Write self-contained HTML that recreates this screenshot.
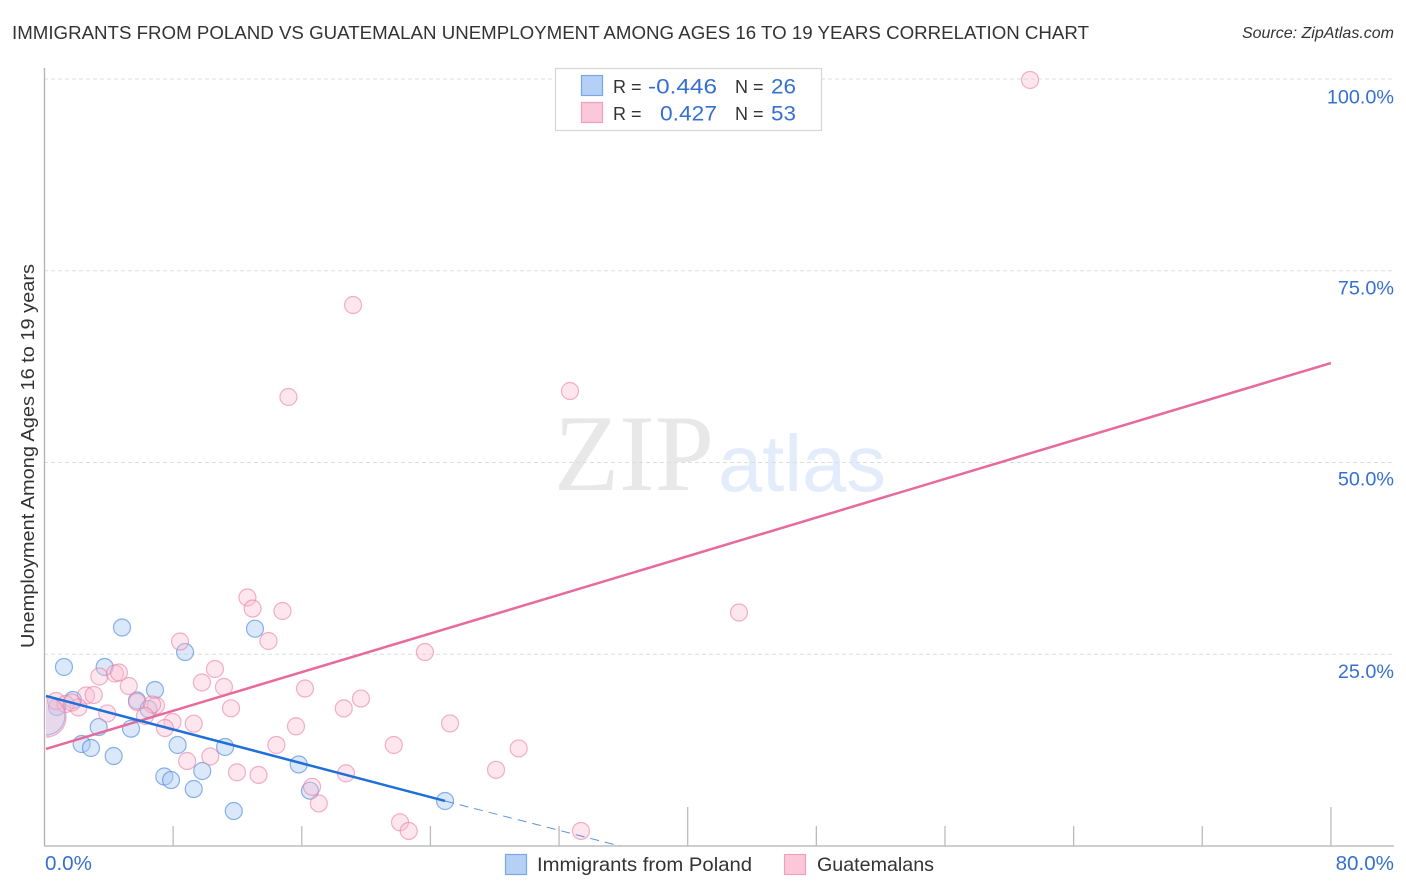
<!DOCTYPE html>
<html lang="en">
<head>
<meta charset="utf-8">
<title>Immigrants from Poland vs Guatemalan Unemployment Correlation Chart</title>
<style>
  html, body { margin: 0; padding: 0; background: #fff; width: 1406px; height: 892px; overflow: hidden; }
  svg { display: block; font-family: "Liberation Sans", sans-serif; }
</style>
</head>
<body>
<svg id="chart" xmlns="http://www.w3.org/2000/svg" width="1406" height="892" viewBox="0 0 1406 892">
  <defs>
    <clipPath id="plot-clip"><rect x="46" y="60" width="1348" height="786"></rect></clipPath>
  </defs>
  <rect x="0" y="0" width="1406" height="892" fill="#ffffff"></rect>
  <text x="12" y="39" font-size="18.6" fill="#333333" textLength="1077" lengthAdjust="spacingAndGlyphs">IMMIGRANTS FROM POLAND VS GUATEMALAN UNEMPLOYMENT AMONG AGES 16 TO 19 YEARS CORRELATION CHART</text>
  <text x="1394" y="38" font-size="16" font-style="italic" fill="#333333" text-anchor="end">Source: ZipAtlas.com</text>
  <text transform="translate(34,456) rotate(-90)" font-size="18" fill="#333333" text-anchor="middle" textLength="384" lengthAdjust="spacingAndGlyphs">Unemployment Among Ages 16 to 19 years</text>

  <g>
    <text x="554" y="490" font-family="'Liberation Serif', serif" font-size="109" fill="#e8e8e8" textLength="160" lengthAdjust="spacingAndGlyphs">ZIP</text>
    <text x="718" y="491" font-size="80" fill="#e3ecfa" textLength="168" lengthAdjust="spacingAndGlyphs">atlas</text>
  </g>

  <g id="grid-layer"></g>
  <g id="axis-layer"></g>
  <g id="points-layer" clip-path="url(#plot-clip)"></g>
  <g id="trend-layer"></g>
  <g id="label-layer"></g>

  <g>
    <rect x="555.5" y="68.5" width="266" height="62" fill="#ffffff" stroke="#d6d6d6" stroke-width="1.2"></rect>
    <rect x="581.5" y="75.5" width="21" height="20" fill="#b5d0f5" stroke="#7aa7e3" stroke-width="1.2"></rect>
    <rect x="581.5" y="102.5" width="21" height="20" fill="#fcc8d9" stroke="#f0a0bc" stroke-width="1.2"></rect>
    <text x="613" y="93" font-size="18" fill="#333333">R =</text>
    <text x="717" y="93.5" font-size="21" fill="#3670cf" text-anchor="end" textLength="69" lengthAdjust="spacingAndGlyphs">-0.446</text>
    <text x="735" y="93" font-size="18" fill="#333333">N =</text>
    <text x="796" y="93.5" font-size="21" fill="#3670cf" text-anchor="end" textLength="25" lengthAdjust="spacingAndGlyphs">26</text>
    <text x="613" y="120" font-size="18" fill="#333333">R =</text>
    <text x="717" y="120.5" font-size="21" fill="#3670cf" text-anchor="end" textLength="57" lengthAdjust="spacingAndGlyphs">0.427</text>
    <text x="735" y="120" font-size="18" fill="#333333">N =</text>
    <text x="796" y="120.5" font-size="21" fill="#3670cf" text-anchor="end" textLength="25" lengthAdjust="spacingAndGlyphs">53</text>
  </g>

  <g>
    <rect x="505.5" y="854.5" width="21" height="20" fill="#b5d0f5" stroke="#7aa7e3" stroke-width="1.2"></rect>
    <text x="537" y="871" font-size="19.5" fill="#333333" textLength="215" lengthAdjust="spacingAndGlyphs">Immigrants from Poland</text>
    <rect x="784.5" y="854.5" width="21" height="20" fill="#fcc8d9" stroke="#f0a0bc" stroke-width="1.2"></rect>
    <text x="817" y="871" font-size="19.5" fill="#333333" textLength="117" lengthAdjust="spacingAndGlyphs">Guatemalans</text>
  </g>
</svg>
<script>
// Chart data (x = % immigrants, y = % unemployment, size = relative sample weight)
const polandX = [1.21,4.82,3.74,0.78,1.77,6.87,5.75,6.47,3.37,5.38,2.31,2.89,4.30,8.28,7.45,7.87,9.81,9.28,11.23,11.77,13.09,8.74,15.81,16.51,24.91,0.09];
const polandY = [23.34,28.49,23.34,18.12,19.04,20.34,18.97,17.86,15.51,15.29,13.30,12.78,11.73,13.17,9.06,8.60,9.78,7.43,12.91,4.56,28.33,25.29,10.63,7.21,5.87,16.95];
const polandSize = [1,1,1,1,1,1,1,1,1,1,1,1,1,1,1,1,1,1,1,1,1,1,1,1,1,5];

const guatemalansX = [61.29,19.19,15.17,32.68,43.19,12.62,12.94,14.80,13.93,8.43,23.66,10.60,9.79,11.16,3.41,4.38,4.63,5.24,2.58,3.06,3.90,2.11,0.72,1.31,1.71,5.75,6.93,6.69,6.25,7.96,7.49,9.28,11.60,16.20,15.64,14.42,10.31,8.87,11.97,13.31,16.64,17.06,18.61,19.68,21.72,18.75,25.22,29.49,28.08,22.11,22.65,33.36,0.09];
const guatemalansY = [99.87,70.53,58.54,59.32,30.44,32.40,30.96,30.64,26.73,26.66,25.29,23.08,21.32,20.73,22.10,22.49,22.62,20.86,19.62,19.69,17.28,18.06,18.90,18.51,18.71,18.77,18.32,18.45,16.95,16.17,15.38,15.95,17.95,20.53,15.61,13.17,11.67,11.08,9.60,9.26,7.72,5.55,17.94,19.22,13.17,9.47,15.98,12.72,9.93,3.09,1.96,1.96,16.82];
const guatemalansSize = [1,1,1,1,1,1,1,1,1,1,1,1,1,1,1,1,1,1,1,1,1,1,1,1,1,1,1,1,1,1,1,1,1,1,1,1,1,1,1,1,1,1,1,1,1,1,1,1,1,1,1,1,5.6];

const polandTrendX = [0.09, 24.91];
const polandTrendY = [19.56, 5.87];
const polandTrendDashX = [24.91, 35.79];
const polandTrendDashY = [5.87, 0];
const guatemalansTrendX = [0.09, 80];
const guatemalansTrendY = [12.65, 62.97];

const yGridValues = [25, 50, 75, 100];
const yTickLabels = ["25.0%", "50.0%", "75.0%", "100.0%"];
const xTickValues = [8, 16, 24, 32, 40, 48, 56, 64, 72, 80];
const xMajorTickValues = [40, 80];
const xEndValues = [0, 80];
const xEndLabels = ["0.0%", "80.0%"];

// Axis functions
function xScale(v) { return 44.5 + v * 16.08; }
function yScale(v) { return 846 - v * 7.67; }
function rScale(s) { return 8.5 * Math.sqrt(s); }

const NS = "http://www.w3.org/2000/svg";
function make(tag, attrs, parent) {
  const el = document.createElementNS(NS, tag);
  for (const k in attrs) el.setAttribute(k, attrs[k]);
  parent.appendChild(el);
  return el;
}

const gridLayer = document.getElementById("grid-layer");
const axisLayer = document.getElementById("axis-layer");
const pointsLayer = document.getElementById("points-layer");
const trendLayer = document.getElementById("trend-layer");
const labelLayer = document.getElementById("label-layer");
const labelBlue = "#3670cf";

yGridValues.forEach(function (v, i) {
  const line = make("line", { x1: 44, x2: 1394, y1: yScale(v), y2: yScale(v), stroke: "#dddddd", "stroke-width": 1, "stroke-dasharray": "4 3" }, gridLayer);
  
  
  const offset = [17, 16.5, 17, 18][i];
  const label = make("text", { x: 1394, y: yScale(v) + offset + 6.5, "font-size": 19.8, fill: labelBlue, "text-anchor": "end" }, labelLayer);
  label.textContent = yTickLabels[i];
  
  
});

const yAxis = make("line", { x1: 44.5, x2: 44.5, y1: 68, y2: 846, stroke: "#b0b0b0", "stroke-width": 1.3 }, axisLayer);



const xAxis = make("line", { x1: 44, x2: 1394, y1: 846, y2: 846, stroke: "#b0b0b0", "stroke-width": 1.3 }, axisLayer);



xTickValues.forEach(function (v) {
  const tick = make("line", { x1: xScale(v), x2: xScale(v), y1: xMajorTickValues.indexOf(v) >= 0 ? 807 : 826, y2: 846, stroke: "#bbbbbb", "stroke-width": 1.3 }, axisLayer);
  
  
});

xEndValues.forEach(function (v, i) {
  const label = make("text", { x: i === 0 ? 45 : 1394, y: 870, "font-size": 20.6, fill: labelBlue, "text-anchor": i === 0 ? "start" : "end" }, labelLayer);
  label.textContent = xEndLabels[i];
  
  
});

polandX.forEach(function (v, i) {
  const dot = make("circle", { cx: xScale(v), cy: yScale(polandY[i]), r: rScale(polandSize[i]), fill: "#a9c8f2", "fill-opacity": 0.42, stroke: "#3f82dc", "stroke-opacity": 0.6, "stroke-width": 1.2 }, pointsLayer);
  
  
});

guatemalansX.forEach(function (v, i) {
  const dot = make("circle", { cx: xScale(v), cy: yScale(guatemalansY[i]), r: rScale(guatemalansSize[i]), fill: "#f9bdd1", "fill-opacity": 0.38, stroke: "#e97fa4", "stroke-opacity": 0.6, "stroke-width": 1.2 }, pointsLayer);
  
  
});

const guatemalansTrend = make("line", { x1: xScale(guatemalansTrendX[0]), y1: yScale(guatemalansTrendY[0]), x2: xScale(guatemalansTrendX[1]), y2: yScale(guatemalansTrendY[1]), stroke: "#e8699b", "stroke-width": 2.5 }, trendLayer);



const polandTrend = make("line", { x1: xScale(polandTrendX[0]), y1: yScale(polandTrendY[0]), x2: xScale(polandTrendX[1]), y2: yScale(polandTrendY[1]), stroke: "#1f6fd8", "stroke-width": 2.5 }, trendLayer);



const polandDash = make("line", { x1: xScale(polandTrendDashX[0]), y1: yScale(polandTrendDashY[0]), x2: xScale(polandTrendDashX[1]), y2: yScale(polandTrendDashY[1]), stroke: "#3f82dc", "stroke-opacity": 0.85, "stroke-width": 1, "stroke-dasharray": "9 6" }, trendLayer);


</script>
</body>
</html>
